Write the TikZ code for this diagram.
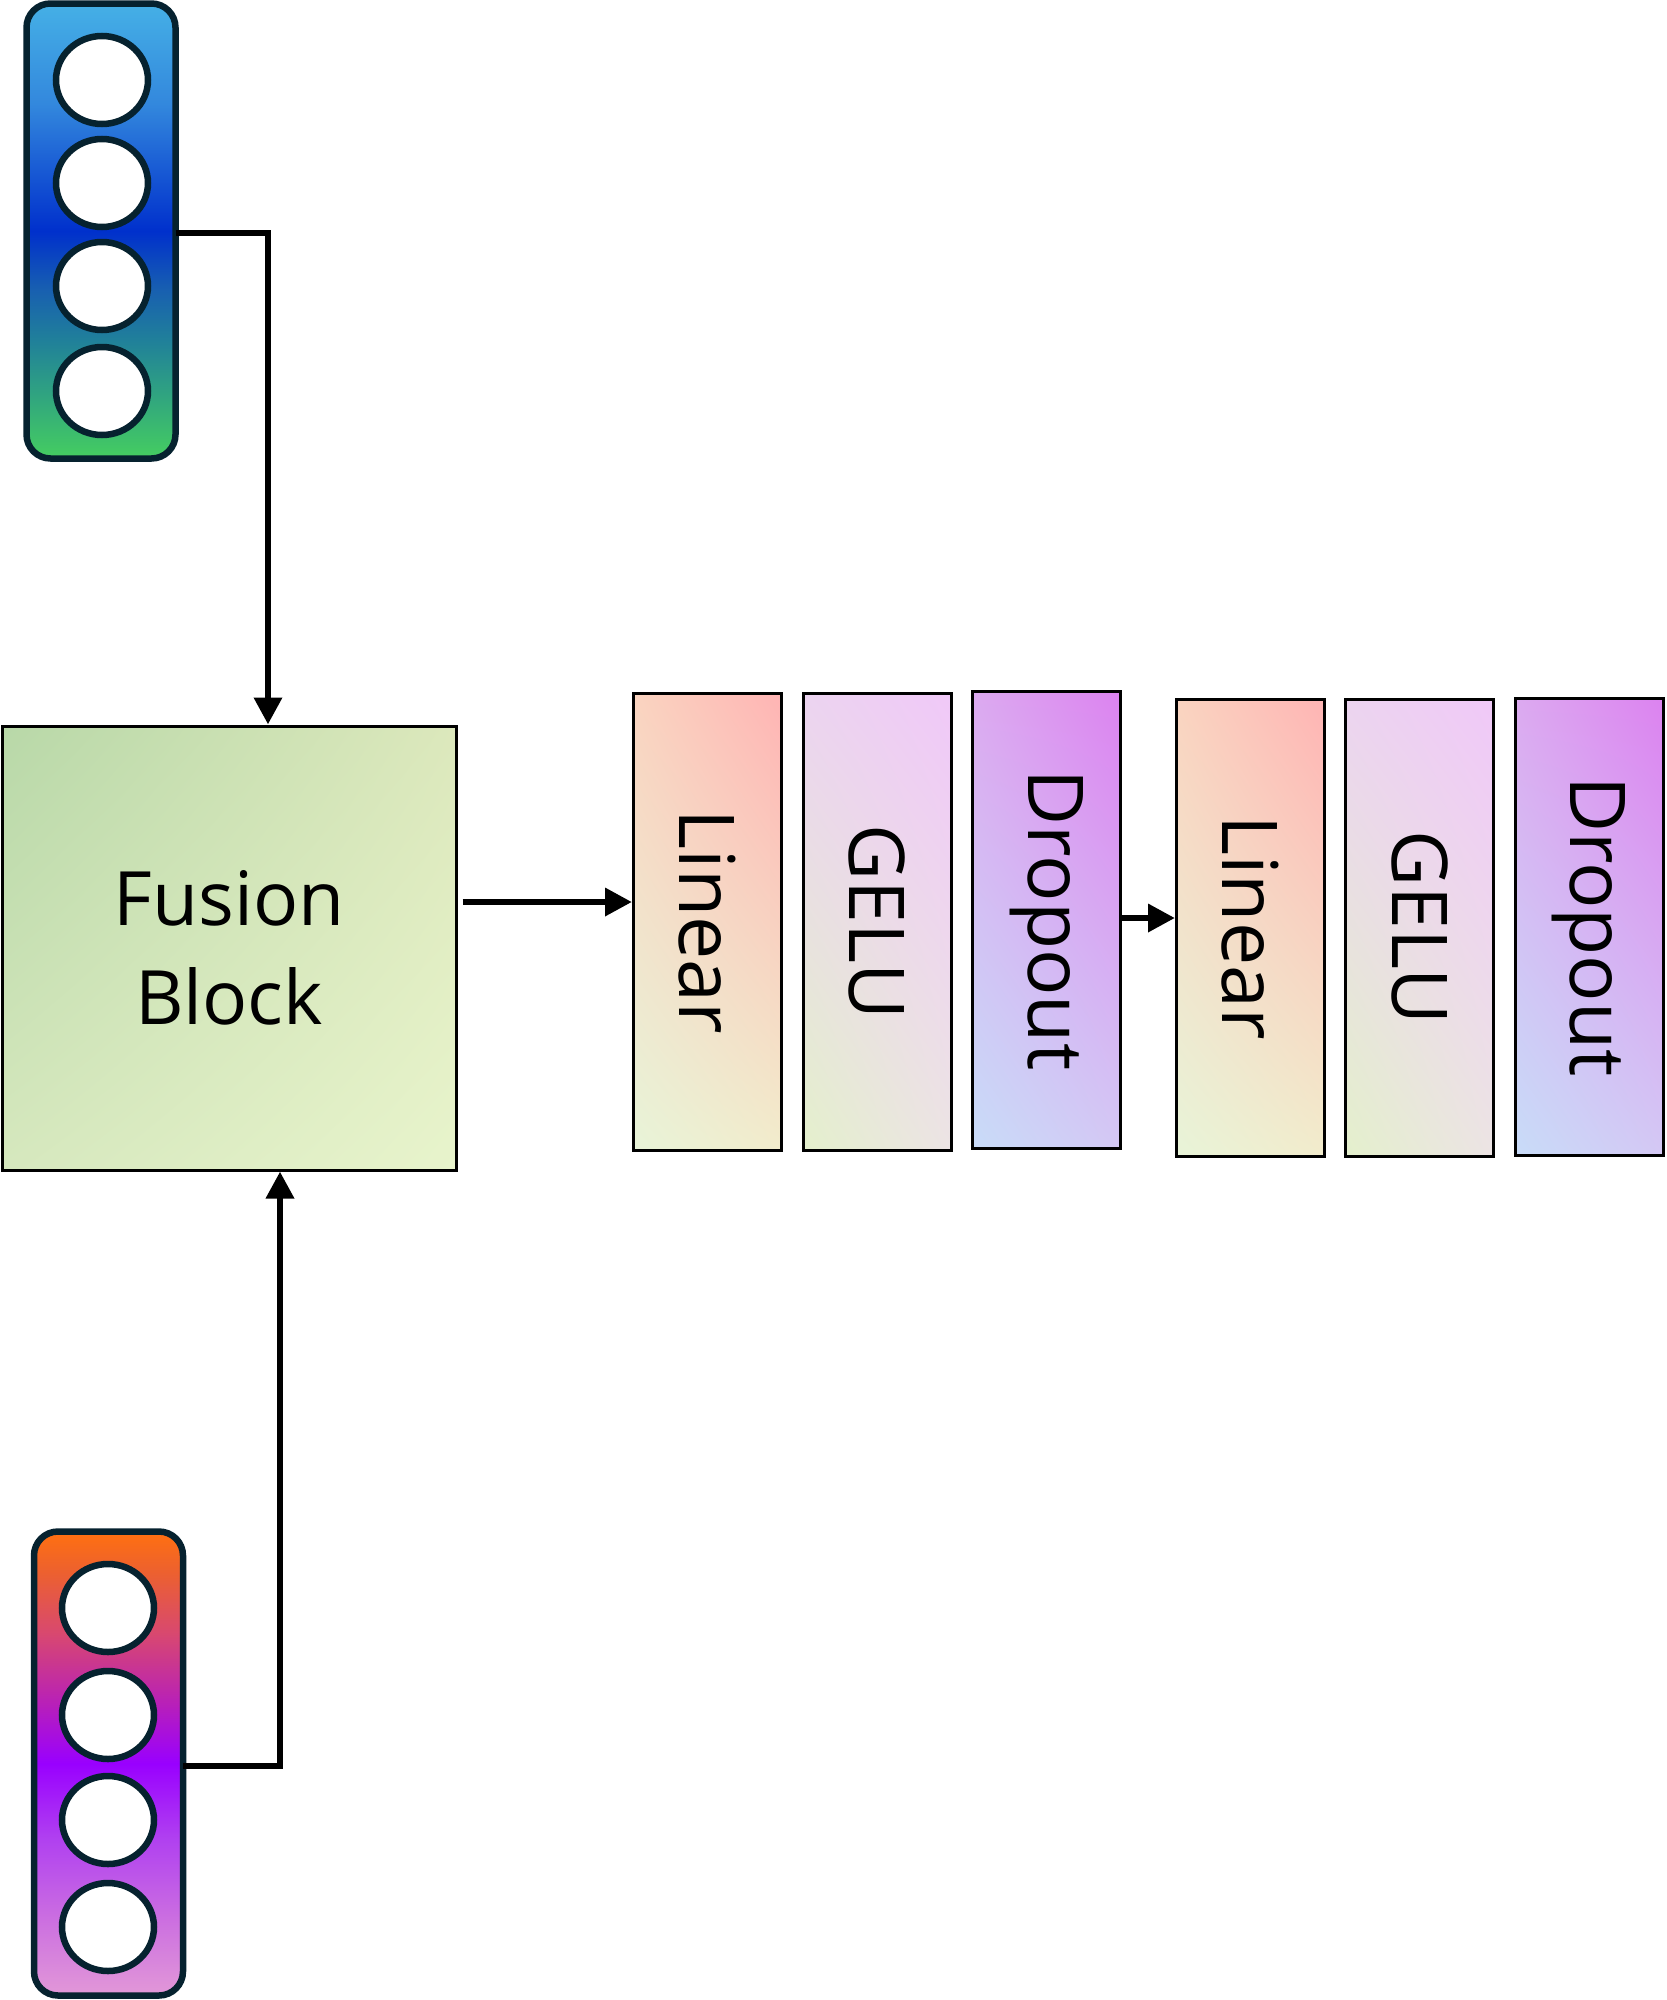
\documentclass[tikz,border=0pt]{standalone}
\usepackage{fontspec}
\setmainfont{Open Sans}
\usetikzlibrary{arrows.meta,calc,shapes.geometric,shadings}
\definecolor{navy}{HTML}{06222F}
% top input gradient
\definecolor{tA0}{HTML}{45B0E6}
\definecolor{tA1}{HTML}{3388DD}
\definecolor{tA2}{HTML}{0030CC}
\definecolor{tA3}{HTML}{1860B0}
\definecolor{tA4}{HTML}{20809A}
\definecolor{tA5}{HTML}{30A480}
\definecolor{tA6}{HTML}{45CE60}
% bottom input gradient
\definecolor{bB0}{HTML}{FF7010}
\definecolor{bB1}{HTML}{EC6030}
\definecolor{bB2}{HTML}{D84870}
\definecolor{bB3}{HTML}{B820B8}
\definecolor{bB4}{HTML}{9900FF}
\definecolor{bB5}{HTML}{B040F0}
\definecolor{bB6}{HTML}{CC70E0}
\definecolor{bB7}{HTML}{E298D8}
% layer corner colours
\definecolor{linUR}{HTML}{FFB4B4}
\definecolor{linUL}{HTML}{FAD4C0}
\definecolor{linLR}{HTML}{F2ECCC}
\definecolor{linLL}{HTML}{E8F4D8}
\definecolor{gelUR}{HTML}{F0C8F8}
\definecolor{gelUL}{HTML}{ECD4F0}
\definecolor{gelLR}{HTML}{ECE4E4}
\definecolor{gelLL}{HTML}{E4F0CC}
\definecolor{droUR}{HTML}{DC82F0}
\definecolor{droUL}{HTML}{DCAAF0}
\definecolor{droLR}{HTML}{D4C8F4}
\definecolor{droLL}{HTML}{C8DCF8}
\definecolor{fusUL}{HTML}{B8D8A8}
\definecolor{fusUR}{HTML}{DCE8BC}
\definecolor{fusLL}{HTML}{D6E8BE}
\definecolor{fusLR}{HTML}{E8F4CC}
\pgfdeclareverticalshading{inAshade}{100bp}{color(0bp)=(tA6); color(25bp)=(tA6); color(32bp)=(tA5); color(38bp)=(tA4); color(43.5bp)=(tA3); color(50bp)=(tA2); color(64bp)=(tA1); color(75bp)=(tA0); color(100bp)=(tA0)}
\pgfdeclareverticalshading{inBshade}{100bp}{color(0bp)=(bB7); color(25bp)=(bB7); color(33bp)=(bB6); color(42bp)=(bB5); color(50bp)=(bB4); color(56.5bp)=(bB3); color(64bp)=(bB2); color(70.5bp)=(bB1); color(75bp)=(bB0); color(100bp)=(bB0)}
\begin{document}
\begin{tikzpicture}[x=1pt,y=-1pt,
  inbox/.style={draw=navy, line width=6.5pt, rounded corners=24pt, minimum width=149pt, inner sep=0pt},
  neuron/.style={draw=navy, fill=white, line width=6.5pt, ellipse, minimum width=92pt, minimum height=88pt, inner sep=0pt},
  layer/.style={draw=black, line width=3pt, minimum width=148pt, minimum height=457pt, inner sep=0pt},
  laytext/.style={rotate=-90, font=\fontsize{77}{90}\selectfont},
  conn/.style={line width=6.5pt, -{Triangle[length=27pt,width=27pt]}},
  linshade/.style={upper right=linUR, upper left=linUL, lower right=linLR, lower left=linLL},
  gelushade/.style={upper right=gelUR, upper left=gelUL, lower right=gelLR, lower left=gelLL},
  dropshade/.style={upper right=droUR, upper left=droUL, lower right=droLR, lower left=droLL}
]
\useasboundingbox (0,0) rectangle (1666,2000);

% input A (top)
\node[inbox, shading=inAshade, minimum height=455pt] (inA) at (101,231) {};
\node[neuron] (a1) at (102,80) {};
\node[neuron] (a2) at (102,183) {};
\node[neuron] (a3) at (102,286) {};
\node[neuron] (a4) at (102,391) {};

% input B (bottom)
\node[inbox, shading=inBshade, minimum height=464pt] (inB) at (108.5,1763.5) {};
\node[neuron] (b1) at (108,1608) {};
\node[neuron] (b2) at (108,1715) {};
\node[neuron] (b3) at (108,1820) {};
\node[neuron] (b4) at (108,1927) {};

% fusion block
\node[draw=black, line width=3pt, minimum width=454pt, minimum height=444pt, inner sep=0pt,
  upper left=fusUL, upper right=fusUR, lower left=fusLL, lower right=fusLR,
  align=center, font=\fontsize{75}{99}\selectfont] (fusion) at (229,948) {Fusion\\Block};

% layers
\node[layer, linshade] (lin1) at (707.5,922) {};
\node[laytext] (lin1t) at (lin1.center) {Linear};
\node[layer, gelushade] (gelu1) at (877,922) {};
\node[laytext] (gelu1t) at (gelu1.center) {GELU};
\node[layer, dropshade] (drop1) at (1046.5,920) {};
\node[laytext] (drop1t) at (drop1.center) {Dropout};
\node[layer, linshade] (lin2) at (1250.5,927.5) {};
\node[laytext] (lin2t) at (lin2.center) {Linear};
\node[layer, gelushade] (gelu2) at (1419.5,927.5) {};
\node[laytext] (gelu2t) at (gelu2.center) {GELU};
\node[layer, dropshade] (drop2) at (1589,926.5) {};
\node[laytext] (drop2t) at (drop2.center) {Dropout};

% connectors
\coordinate (fusTopIn) at ($(fusion.north)+(39,0)$);
\coordinate (fusBotIn) at ($(fusion.south)+(51,0)$);
\draw[conn] ($(inA.east)+(-3,2)$) -| (fusTopIn);
\draw[conn] ($(inB.east)+(-3,2.5)$) -| (fusBotIn);
\coordinate (f1) at ($(fusion.east)+(5,-46)$);
\draw[conn] (f1) -- (f1 -| lin1.west);
\coordinate (d1) at ($(drop1.east)+(-1,-2)$);
\draw[conn] (d1) -- (d1 -| lin2.west);
\end{tikzpicture}
\end{document}
